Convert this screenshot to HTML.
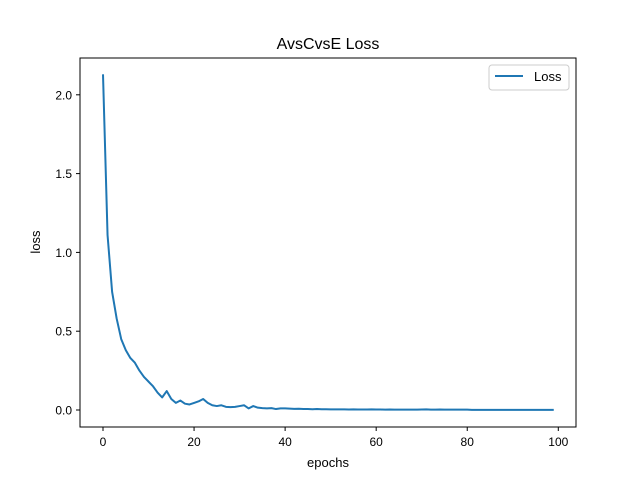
<!DOCTYPE html>
<html><head><meta charset="utf-8"><style>
body{margin:0;background:#fff}
svg{display:block;font-family:"Liberation Sans","DejaVu Sans",sans-serif}
</style></head><body>
<svg id="chart" width="640" height="480" viewBox="0 0 640 480">
<rect width="640" height="480" fill="#fff"/>
<text x="328" y="49" text-anchor="middle" font-size="16">AvsCvsE Loss</text>
<g id="ticks"></g>
<path id="line" fill="none" stroke="#1f77b4" stroke-width="2" stroke-linejoin="round"/>
<rect x="80" y="58" width="496" height="369" fill="none" stroke="#000" stroke-width="1"/>
<text x="328" y="467" text-anchor="middle" font-size="13">epochs</text>
<text transform="translate(40,242) rotate(-90)" text-anchor="middle" font-size="13">loss</text>
<g>
<rect x="489" y="65" width="80" height="25" rx="3" fill="#fff" stroke="#ccc"/>
<line x1="495" y1="76" x2="523" y2="76" stroke="#1f77b4" stroke-width="2"/>
<text x="534" y="81" font-size="13">Loss</text>
</g>
</svg>
<script>
const lossValues=[2.13,1.11,0.75,0.58,0.45,0.38,0.33,0.30,0.25,0.21,0.18,0.15,0.11,0.08,0.12,0.07,0.045,0.06,0.04,0.035,0.045,0.055,0.07,0.045,0.03,0.025,0.03,0.02,0.018,0.02,0.025,0.03,0.01,0.025,0.015,0.012,0.01,0.012,0.006,0.01,0.01,0.009,0.007,0.008,0.006,0.006,0.005,0.006,0.005,0.005,0.004,0.004,0.004,0.004,0.003,0.004,0.003,0.003,0.003,0.004,0.003,0.003,0.002,0.003,0.002,0.002,0.002,0.002,0.002,0.002,0.003,0.004,0.002,0.002,0.003,0.002,0.002,0.002,0.002,0.002,0.002,0.001,0.001,0.001,0.001,0.001,0.001,0.001,0.001,0.001,0.001,0.001,0.001,0.001,0.001,0.001,0.001,0.001,0.001,0.001];
const xTicks=[0,20,40,60,80,100];
const yTicks=[0.0,0.5,1.0,1.5,2.0];
const xs=v=>103+v*4.553;
const ys=v=>410-v*157.6;
const NS='http://www.w3.org/2000/svg';
const g=document.getElementById('ticks');
xTicks.forEach(t=>{
  const l=document.createElementNS(NS,'line');
  l.setAttribute('x1',xs(t));l.setAttribute('x2',xs(t));l.setAttribute('y1',427);l.setAttribute('y2',431);l.setAttribute('stroke','#000');
  
  
  g.appendChild(l);
  const tx=document.createElementNS(NS,'text');
  tx.setAttribute('x',xs(t));tx.setAttribute('y',446);tx.setAttribute('text-anchor','middle');tx.setAttribute('font-size','12');
  tx.textContent=t;
  
  
  g.appendChild(tx);
});
yTicks.forEach(t=>{
  const l=document.createElementNS(NS,'line');
  l.setAttribute('x1',76);l.setAttribute('x2',80);l.setAttribute('y1',ys(t));l.setAttribute('y2',ys(t));l.setAttribute('stroke','#000');
  
  
  g.appendChild(l);
  const tx=document.createElementNS(NS,'text');
  tx.setAttribute('x',72);tx.setAttribute('y',ys(t)+4.5);tx.setAttribute('text-anchor','end');tx.setAttribute('font-size','12');
  tx.textContent=t.toFixed(1);
  
  
  g.appendChild(tx);
});
document.getElementById('line').setAttribute('d',lossValues.map((v,i)=>(i?'L':'M')+xs(i).toFixed(2)+','+ys(v).toFixed(2)).join(''));
</script>
</body></html>
